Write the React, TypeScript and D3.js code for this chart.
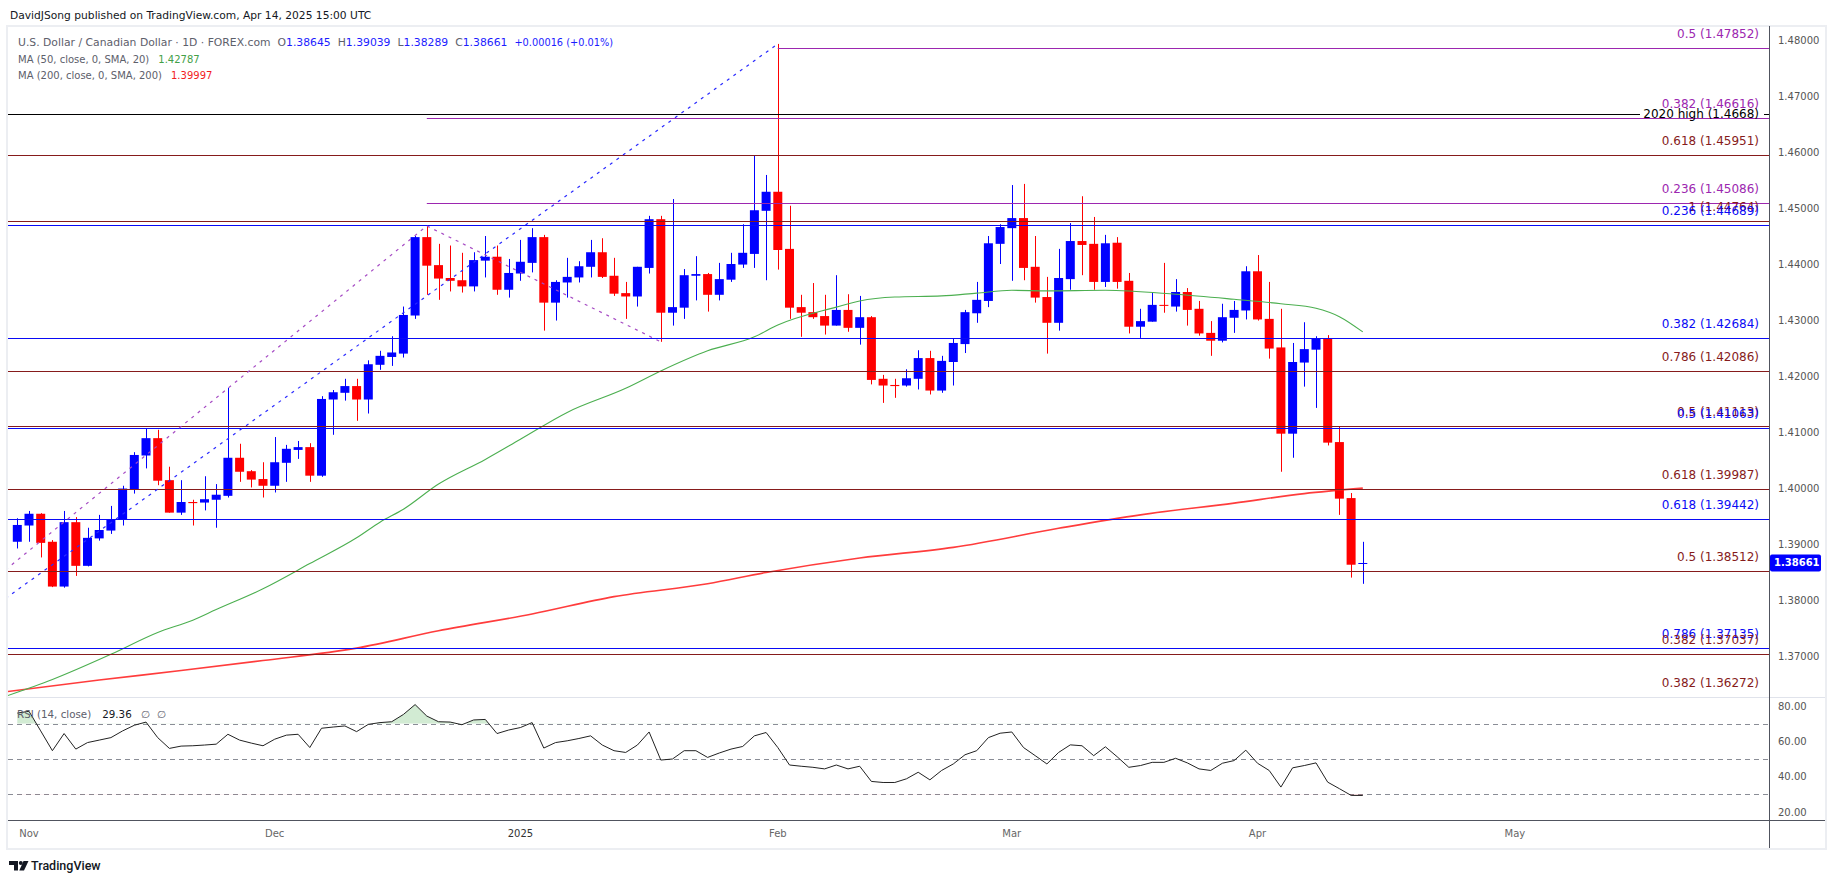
import React from 'react';
import * as d3 from 'd3';

const WIDTH = 1835;
const HEIGHT = 883;
const FONT = '"DejaVu Sans", Verdana, sans-serif';

// daily bars, 2024-10-31 .. 2025-04-14: [open, high, low, close]
const candles: [number, number, number, number][] = [
  [1.3904, 1.3946, 1.3892, 1.3934], [1.3933, 1.3959, 1.3904, 1.3954], [1.3954, 1.3955, 1.3876, 1.3902],
  [1.3904, 1.3907, 1.3823, 1.3824], [1.3824, 1.3959, 1.3822, 1.3939], [1.3939, 1.3948, 1.3843, 1.3861],
  [1.3861, 1.3929, 1.386, 1.3911], [1.391, 1.3952, 1.3906, 1.3925], [1.3924, 1.3968, 1.3918, 1.3944],
  [1.3944, 1.4004, 1.3933, 1.3999], [1.3998, 1.4064, 1.399, 1.4059], [1.4058, 1.4107, 1.4035, 1.4089],
  [1.4089, 1.4104, 1.4005, 1.4013], [1.4014, 1.4038, 1.3956, 1.3956], [1.3956, 1.4014, 1.3952, 1.3975],
  [1.3975, 1.3979, 1.3933, 1.3973], [1.3974, 1.4021, 1.396, 1.398], [1.3979, 1.4007, 1.3929, 1.3988],
  [1.3986, 1.4179, 1.3983, 1.4054], [1.4054, 1.4079, 1.4011, 1.4029], [1.403, 1.4032, 1.4001, 1.4015],
  [1.4016, 1.4046, 1.3983, 1.4004], [1.4004, 1.4091, 1.3992, 1.4046], [1.4045, 1.4077, 1.4011, 1.407],
  [1.4068, 1.4084, 1.4052, 1.4073], [1.4073, 1.408, 1.4011, 1.4022], [1.4022, 1.4164, 1.402, 1.4159],
  [1.4158, 1.4175, 1.4095, 1.4171], [1.417, 1.4195, 1.4156, 1.4182], [1.4182, 1.4195, 1.412, 1.4158],
  [1.4158, 1.4228, 1.4133, 1.4221], [1.422, 1.4245, 1.4211, 1.4236], [1.4234, 1.4271, 1.4218, 1.4242],
  [1.424, 1.4324, 1.4233, 1.4309], [1.4308, 1.445, 1.4302, 1.4448], [1.4448, 1.4468, 1.4345, 1.4397],
  [1.4398, 1.4436, 1.4336, 1.4374], [1.4375, 1.4433, 1.4351, 1.437], [1.4371, 1.442, 1.4349, 1.436],
  [1.436, 1.4421, 1.4351, 1.4407], [1.4406, 1.445, 1.4376, 1.4413], [1.4413, 1.4433, 1.4345, 1.4354],
  [1.4354, 1.4409, 1.434, 1.4384], [1.4383, 1.4443, 1.437, 1.4404], [1.4402, 1.4464, 1.4385, 1.4448],
  [1.4448, 1.4452, 1.4281, 1.4331], [1.4331, 1.4371, 1.4299, 1.4368], [1.4367, 1.4411, 1.434, 1.4377],
  [1.4376, 1.4405, 1.4367, 1.4396], [1.4395, 1.4443, 1.4376, 1.4421], [1.4421, 1.4446, 1.4375, 1.4377],
  [1.4379, 1.4411, 1.4343, 1.4347], [1.4348, 1.4368, 1.4302, 1.4342], [1.4342, 1.4395, 1.4324, 1.4395],
  [1.4393, 1.4486, 1.4383, 1.448], [1.448, 1.4486, 1.4261, 1.4313], [1.4313, 1.4516, 1.429, 1.4323],
  [1.4322, 1.4391, 1.4302, 1.438], [1.4379, 1.4414, 1.4335, 1.4382], [1.4382, 1.4384, 1.4315, 1.4345],
  [1.4345, 1.4402, 1.4335, 1.4373], [1.4372, 1.442, 1.4368, 1.44], [1.4399, 1.4471, 1.4393, 1.442],
  [1.4418, 1.4594, 1.4393, 1.4496], [1.4495, 1.4559, 1.4371, 1.4529], [1.4529, 1.4793, 1.439, 1.4425],
  [1.4427, 1.4504, 1.4302, 1.4322], [1.4323, 1.4345, 1.427, 1.4313], [1.4314, 1.4366, 1.4302, 1.4305],
  [1.4307, 1.4345, 1.4274, 1.429], [1.429, 1.438, 1.429, 1.4318], [1.4318, 1.4346, 1.4279, 1.4286],
  [1.4286, 1.4343, 1.4256, 1.4305], [1.4305, 1.4307, 1.4185, 1.4193], [1.4195, 1.4202, 1.4152, 1.4183],
  [1.4184, 1.4195, 1.4161, 1.4182], [1.4183, 1.4212, 1.4181, 1.4196], [1.4195, 1.4246, 1.4176, 1.4232],
  [1.4232, 1.4245, 1.4167, 1.4174], [1.4174, 1.4236, 1.417, 1.4227], [1.4225, 1.4266, 1.4183, 1.4259],
  [1.4257, 1.4318, 1.4241, 1.4314], [1.4312, 1.4368, 1.4295, 1.4336], [1.4334, 1.445, 1.4323, 1.4437],
  [1.4436, 1.4471, 1.44, 1.4466], [1.4464, 1.4541, 1.437, 1.4482], [1.4482, 1.4543, 1.4371, 1.4393],
  [1.4395, 1.445, 1.4331, 1.434], [1.4341, 1.4377, 1.424, 1.4295], [1.4295, 1.4427, 1.4281, 1.4375],
  [1.4373, 1.4473, 1.4354, 1.4441], [1.4441, 1.4521, 1.438, 1.4434], [1.4436, 1.4484, 1.4354, 1.4368],
  [1.4368, 1.4452, 1.4359, 1.4437], [1.4438, 1.4448, 1.4356, 1.4368], [1.437, 1.4384, 1.4276, 1.4288],
  [1.4288, 1.432, 1.4268, 1.4298], [1.4297, 1.435, 1.4297, 1.4327], [1.4327, 1.4402, 1.4313, 1.4326],
  [1.4324, 1.4373, 1.4315, 1.435], [1.435, 1.4357, 1.429, 1.4318], [1.432, 1.4334, 1.4272, 1.4276],
  [1.4277, 1.4298, 1.4236, 1.4263], [1.4263, 1.4329, 1.426, 1.4305], [1.4304, 1.4334, 1.4277, 1.4318],
  [1.4317, 1.4396, 1.4301, 1.4387], [1.4387, 1.4416, 1.4299, 1.4301], [1.4302, 1.4368, 1.4231, 1.4249],
  [1.4251, 1.432, 1.4029, 1.4097], [1.4097, 1.4259, 1.4054, 1.4225], [1.4224, 1.4296, 1.4181, 1.4248],
  [1.4247, 1.4271, 1.4143, 1.4267], [1.4267, 1.4273, 1.4076, 1.4081], [1.4082, 1.4109, 1.3952, 1.3981],
  [1.3982, 1.3991, 1.384, 1.3863], [1.38645, 1.39039, 1.38289, 1.38661],
];

const firstDay = '2024-10-31';
const lastCalendarDay = '2025-05-30';
const holidays = ['2024-12-25', '2025-01-01'];

// [bar index, value]
const ma50Points: [number, number][] = [
  [-1, 1.3628], [3, 1.3658], [8, 1.3703], [12, 1.3742], [15, 1.3764], [17, 1.3783], [21, 1.382],
  [25, 1.3865], [29, 1.3911], [31, 1.3939], [33, 1.3962], [36, 1.4007], [40, 1.4051], [43, 1.4087],
  [47, 1.4135], [52, 1.4178], [55, 1.4209], [59, 1.4245], [63, 1.427], [65, 1.4291], [70, 1.4323],
  [72, 1.4334], [75, 1.4341], [79, 1.4343], [82, 1.4348], [85, 1.4353], [88, 1.4352], [93, 1.4353],
  [99, 1.4346], [104, 1.4337], [108, 1.4329], [111, 1.4321], [113, 1.4306], [115, 1.42787],
];
const ma200Points: [number, number][] = [
  [-1, 1.3636], [7, 1.3657], [14, 1.3674], [21, 1.3692], [29, 1.3714], [36, 1.3745], [44, 1.3775],
  [51, 1.3806], [59, 1.3829], [64, 1.3849], [72, 1.3875], [80, 1.3894], [89, 1.3928], [96, 1.3952],
  [104, 1.3973], [110, 1.399], [115, 1.39997],
];

const rsiValues = [
  76, 77, 65.9, 54.7, 64.4, 55.6, 59.3, 60.7, 62.1, 65.9, 69.1, 70.9, 62.1, 56, 57.3, 57.5, 57.9, 58.4,
  64, 60.7, 59, 57.5, 61.2, 63.5, 64, 56.5, 67.4, 68.1, 68.7, 65.5, 69.6, 70.6, 71.1, 75.2, 80.8, 74.3,
  71.1, 70.9, 69.4, 72.1, 72.4, 64.4, 66.4, 67.8, 70.6, 56.2, 59.3, 60.3, 61.6, 63.1, 57.9, 54.7, 53.7,
  57.9, 65.3, 49.4, 50, 54.7, 54.7, 50.9, 53.4, 55.6, 57.1, 63.1, 65, 56.5, 46.6, 45.9, 45.3, 44.4, 46.6,
  44.4, 45.9, 37.3, 36.7, 36.7, 38.8, 42.5, 38.2, 43.5, 47.2, 52.4, 54.7, 62.1, 64.6, 65.3, 56.5, 51.9,
  47.2, 53.7, 58, 57.5, 51.9, 56.9, 51.3, 45.3, 46.3, 48.1, 48.1, 50.4, 47.8, 44.4, 43.5, 47.6, 49.1, 55,
  47.6, 43.5, 34.1, 45, 46.3, 47.8, 36.9, 33.2, 29.4, 29.36,
];

const priceTicks = [1.48, 1.47, 1.46, 1.45, 1.44, 1.43, 1.42, 1.41, 1.4, 1.39, 1.38, 1.37];
const rsiTicks = [80, 60, 40, 20];
const rsiGuides = [70, 50, 30];

type Tone = 'purple' | 'red' | 'blue';
const fibLevels: { ratio: string; value: number; tone: Tone; startBar?: number }[] = [
  { ratio: '0.5', value: 1.47852, tone: 'purple', startBar: 65 },
  { ratio: '0.382', value: 1.46616, tone: 'purple', startBar: 35 },
  { ratio: '0.618', value: 1.45951, tone: 'red' },
  { ratio: '0.236', value: 1.45086, tone: 'purple', startBar: 35 },
  { ratio: '1', value: 1.44764, tone: 'red' },
  { ratio: '0.236', value: 1.44689, tone: 'blue' },
  { ratio: '0.382', value: 1.42684, tone: 'blue' },
  { ratio: '0.786', value: 1.42086, tone: 'red' },
  { ratio: '0.5', value: 1.41113, tone: 'red' },
  { ratio: '0.5', value: 1.41063, tone: 'blue' },
  { ratio: '0.618', value: 1.39987, tone: 'red' },
  { ratio: '0.618', value: 1.39442, tone: 'blue' },
  { ratio: '0.5', value: 1.38512, tone: 'red' },
  { ratio: '0.786', value: 1.37135, tone: 'blue' },
  { ratio: '0.382', value: 1.37037, tone: 'red' },
  { ratio: '0.382', value: 1.36272, tone: 'red' },
];
const highLevel = { label: '2020 high', value: 1.4668 };

const blueTrend: [number, number][] = [[-1, 1.3803], [65, 1.4793]];
const purpleTrend: [number, number][] = [[-1, 1.3854], [35, 1.4468], [55, 1.4261]];

const toneColor: Record<Tone, string> = { purple: '#9c27b0', red: '#861b1b', blue: '#0a0af5' };
const UP = '#0000ff';
const DOWN = '#ff0000';

const L = 8;
const R = 1769;
const TOP = 27;
const PRICE_BOTTOM = 697;
const RSI_BOTTOM = 820;
const FRAME_RIGHT = 1825;
const FRAME_BOTTOM = 848;

function tradingDays() {
  const out: Date[] = [];
  const end = new Date(lastCalendarDay + 'T00:00:00Z');
  for (let d = new Date(firstDay + 'T00:00:00Z'); d <= end; d.setUTCDate(d.getUTCDate() + 1)) {
    const wd = d.getUTCDay();
    if (wd === 0 || wd === 6) continue;
    if (holidays.includes(d.toISOString().slice(0, 10))) continue;
    out.push(new Date(d));
  }
  return out;
}

const App: React.FC = () => {
  const x = d3.scaleLinear().domain([0, 115]).range([17.3, 1362.8]);
  const y = d3.scaleLinear().domain([1.37, 1.48]).range([656, 40]);
  const yr = d3.scaleLinear().domain([20, 80]).range([812, 706]);

  const days = tradingDays();
  const monthTicks = days
    .map((d, i) => ({ d, i }))
    .filter(({ d, i }) => i > 0 && d.getUTCMonth() !== days[i - 1].getUTCMonth())
    .map(({ d, i }) => ({
      i,
      label: d.getUTCMonth() === 0 ? String(d.getUTCFullYear()) : d3.utcFormat('%b')(d),
      year: d.getUTCMonth() === 0,
    }))
    .filter((t) => x(t.i) < R - 20);

  const crisp = (v: number) => Math.round(v) + 0.5;

  const pLine = d3.line<[number, number]>().x((d) => x(d[0])).y((d) => y(d[1]));
  const maLine = d3.line<[number, number]>().x((d) => x(d[0])).y((d) => y(d[1])).curve(d3.curveMonotoneX);
  const rsiLine = d3.line<number>().x((_, i) => x(i)).y((d) => yr(d));
  const rsiUpper = d3.area<number>().x((_, i) => x(i)).y0(yr(70)).y1((d) => yr(d));
  const rsiLower = d3.area<number>().x((_, i) => x(i)).y0(yr(30)).y1((d) => yr(d));

  const bodyW = 9;
  const last = candles[candles.length - 1];
  const blueVal = '#1c1cff';

  return (
    <svg
      width={WIDTH}
      height={HEIGHT}
      style={{ position: 'absolute', left: 0, top: 0, background: '#fff' }}
      fontFamily={FONT}
    >
      <defs>
        <clipPath id="pricePane">
          <rect x={L} y={TOP} width={R - L} height={PRICE_BOTTOM - TOP} />
        </clipPath>
        <clipPath id="rsiPane">
          <rect x={L} y={PRICE_BOTTOM} width={R - L} height={RSI_BOTTOM - PRICE_BOTTOM} />
        </clipPath>
        <clipPath id="rsiAbove">
          <rect x={L} y={PRICE_BOTTOM} width={R - L} height={yr(70) - PRICE_BOTTOM} />
        </clipPath>
        <clipPath id="rsiBelow">
          <rect x={L} y={yr(30)} width={R - L} height={RSI_BOTTOM - yr(30)} />
        </clipPath>
      </defs>

      <rect width={WIDTH} height={HEIGHT} fill="#fff" />

      <text x={10} y={18.5} fontSize={10.7} fill="#131722">
        DavidJSong published on TradingView.com, Apr 14, 2025 15:00 UTC
      </text>

      {/* frame */}
      <rect x={7} y={26} width={FRAME_RIGHT - 7 + 1} height={FRAME_BOTTOM - 26 + 1} fill="none" stroke="#eceef2" strokeWidth={2} />

      {/* price pane */}
      <g clipPath="url(#pricePane)">
        {candles.map(([o, h, l, c], i) => {
          const col = c >= o ? UP : DOWN;
          const cx = x(i);
          const top = y(Math.max(o, c));
          const bh = Math.max(1, Math.abs(y(o) - y(c)));
          return (
            <g key={i}>
              <line x1={crisp(cx)} x2={crisp(cx)} y1={y(h)} y2={y(l)} stroke={col} strokeWidth={1} />
              <rect x={cx - bodyW / 2} y={top} width={bodyW} height={bh} fill={col} />
            </g>
          );
        })}

        <path d={maLine(ma200Points) || ''} fill="none" stroke="#ff1a1a" strokeWidth={1.6} strokeOpacity={0.85} />
        <path d={maLine(ma50Points) || ''} fill="none" stroke="#4caf50" strokeWidth={1.1} />

        {fibLevels.map((lv, k) => (
          <line
            key={k}
            x1={lv.startBar !== undefined ? x(lv.startBar) : L}
            x2={R}
            y1={crisp(y(lv.value))}
            y2={crisp(y(lv.value))}
            stroke={toneColor[lv.tone]}
            strokeWidth={1}
          />
        ))}
        <line x1={L} x2={1640} y1={crisp(y(highLevel.value))} y2={crisp(y(highLevel.value))} stroke="#000" />
        <line x1={1764} x2={R} y1={crisp(y(highLevel.value))} y2={crisp(y(highLevel.value))} stroke="#000" />

        <path d={pLine(blueTrend) || ''} fill="none" stroke="#2b2bff" strokeWidth={1.2} strokeDasharray="3 5" />
        <path d={pLine(purpleTrend) || ''} fill="none" stroke="#a64bc4" strokeWidth={1.2} strokeDasharray="3 5" />
      </g>

      {fibLevels.map((lv, k) => (
        <text key={k} x={1759} y={y(lv.value) - 10} textAnchor="end" fontSize={12} fill={toneColor[lv.tone]}>
          {`${lv.ratio} (${lv.value.toFixed(5)})`}
        </text>
      ))}
      <text x={1759} y={y(highLevel.value) + 4.5} textAnchor="end" fontSize={12} fill="#000">
        {`${highLevel.label} (${highLevel.value.toFixed(4)})`}
      </text>

      {/* legend */}
      <text x={18} y={45.7} fontSize={10.8} fill="#5d606b">
        <tspan>U.S. Dollar / Canadian Dollar · 1D · FOREX.com</tspan>
        <tspan dx={7}>O</tspan>
        <tspan fill={blueVal}>{last[0].toFixed(5)}</tspan>
        <tspan dx={7}>H</tspan>
        <tspan fill={blueVal}>{last[1].toFixed(5)}</tspan>
        <tspan dx={7}>L</tspan>
        <tspan fill={blueVal}>{last[2].toFixed(5)}</tspan>
        <tspan dx={7}>C</tspan>
        <tspan fill={blueVal}>{last[3].toFixed(5)}</tspan>
        <tspan dx={7} fill={blueVal} fontSize={9.8}>+0.00016 (+0.01%)</tspan>
      </text>
      <text x={18} y={62.5} fontSize={10} fill="#5d606b">
        <tspan>MA (50, close, 0, SMA, 20)</tspan>
        <tspan dx={9} fill="#43a047">{ma50Points[ma50Points.length - 1][1].toFixed(5)}</tspan>
      </text>
      <text x={18} y={79} fontSize={10} fill="#5d606b">
        <tspan>MA (200, close, 0, SMA, 200)</tspan>
        <tspan dx={9} fill="#f21d1d">{ma200Points[ma200Points.length - 1][1].toFixed(5)}</tspan>
      </text>

      {/* RSI pane */}
      <g clipPath="url(#rsiPane)">
        {rsiGuides.map((g) => (
          <line key={g} x1={L} x2={R} y1={crisp(yr(g))} y2={crisp(yr(g))} stroke="#8a8d96" strokeDasharray="5 4" />
        ))}
        <path d={rsiUpper(rsiValues) || ''} fill="rgba(76,175,80,0.25)" clipPath="url(#rsiAbove)" />
        <path d={rsiLower(rsiValues) || ''} fill="rgba(242,54,69,0.25)" clipPath="url(#rsiBelow)" />
        <path d={rsiLine(rsiValues) || ''} fill="none" stroke="#222" strokeWidth={1} />
      </g>
      <text x={17} y={718} fontSize={10.3} fill="#5d606b">
        <tspan>RSI (14, close)</tspan>
        <tspan dx={11} fill="#131722">{rsiValues[rsiValues.length - 1].toFixed(2)}</tspan>
        <tspan dx={9}>∅</tspan>
        <tspan dx={7}>∅</tspan>
      </text>

      {/* separators and axes */}
      <line x1={L} x2={FRAME_RIGHT} y1={PRICE_BOTTOM + 0.5} y2={PRICE_BOTTOM + 0.5} stroke="#e0e3eb" />
      <line x1={L} x2={FRAME_RIGHT} y1={RSI_BOTTOM + 0.5} y2={RSI_BOTTOM + 0.5} stroke="#50535e" />
      <line x1={R + 0.5} x2={R + 0.5} y1={26} y2={FRAME_BOTTOM} stroke="#50535e" />

      {priceTicks.map((t) => (
        <text key={t} x={1778} y={y(t)} dy="0.35em" fontSize={10} fill="#555">
          {t.toFixed(5)}
        </text>
      ))}
      {rsiTicks.map((t) => (
        <text key={t} x={1778} y={yr(t)} dy="0.35em" fontSize={10} fill="#555">
          {t.toFixed(2)}
        </text>
      ))}

      <rect x={1770} y={y(last[3]) - 8.5} width={51} height={17} rx={2} fill="#0000ff" />
      <text x={1774} y={y(last[3])} dy="0.35em" fontSize={10} fontWeight="bold" fill="#fff">
        {last[3].toFixed(5)}
      </text>

      {monthTicks.map((t) => (
        <text key={t.i} x={x(t.i)} y={837} textAnchor="middle" fontSize={10} fill={t.year ? '#333' : '#666'}>
          {t.label}
        </text>
      ))}

      {/* logo */}
      <g fill="#131722">
        <path d="M9 861 h9 v9.5 h-4 v-5.5 h-5 z" />
        <circle cx={20.8} cy={863} r={2} />
        <path d="M23.5 861 h5 l-4.5 9.5 h-4.7 z" />
      </g>
      <text x={31} y={870} fontSize={12.5} fill="#131722" fontFamily="Roboto, sans-serif" fontWeight={500}>
        TradingView
      </text>
    </svg>
  );
};

export default App;
